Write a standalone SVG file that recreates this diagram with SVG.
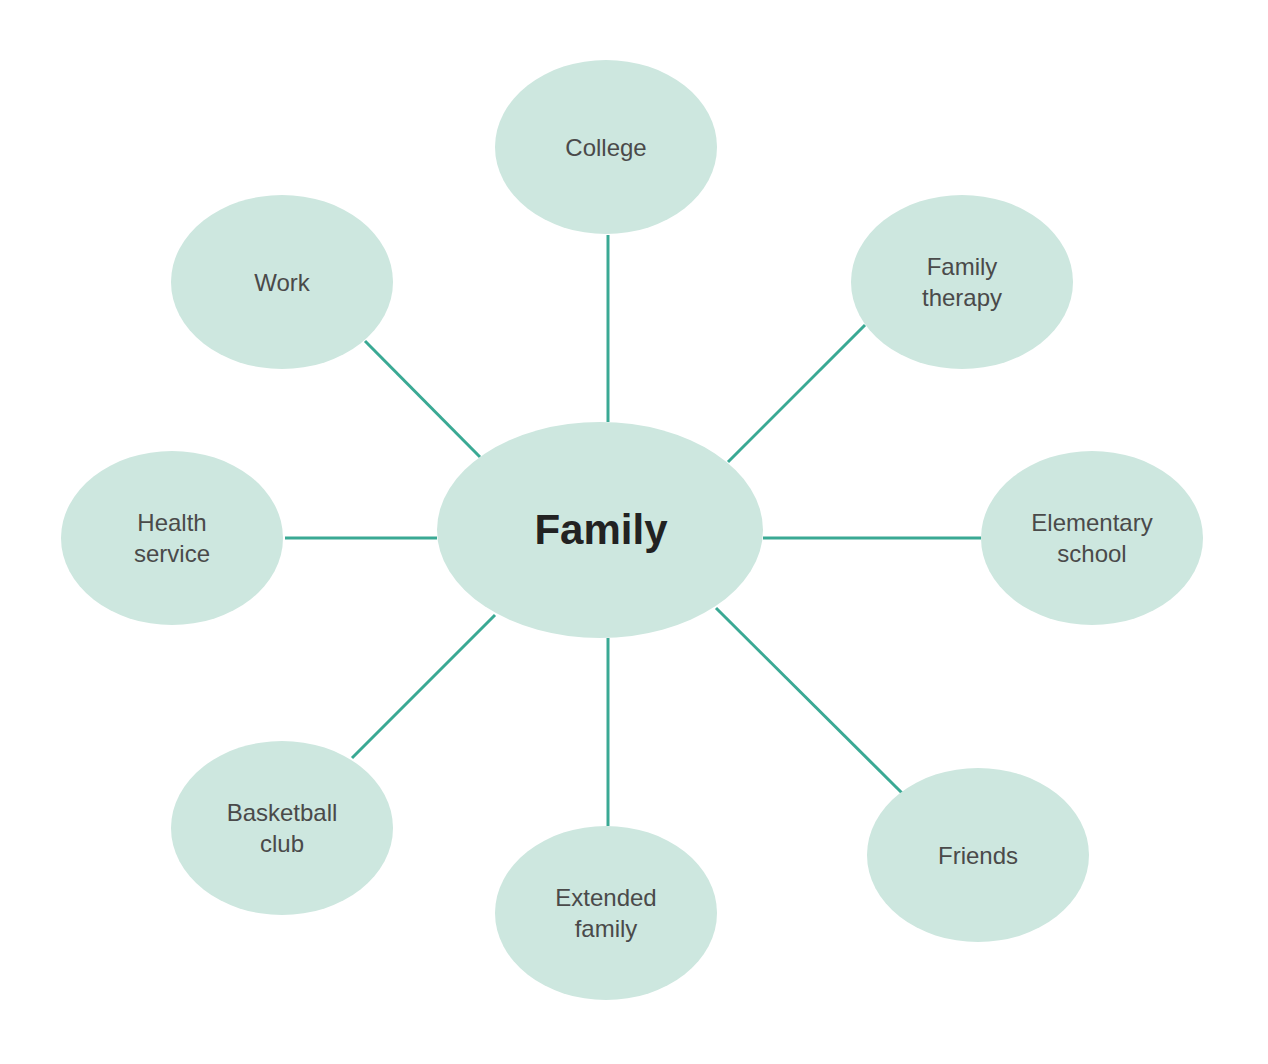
<svg xmlns="http://www.w3.org/2000/svg" width="1268" height="1064" viewBox="0 0 1268 1064">
<style>
.n{fill:#cde7df;}
.t{font-family:"Liberation Sans",Arial,sans-serif;font-size:24px;fill:#4a4a4a;text-anchor:middle;}
.c{stroke:#3aa994;stroke-width:3;fill:none;}
</style>
<rect width="1268" height="1064" fill="#fff"/>
<g id="connectors">
<line class="c" x1="608" y1="235" x2="608" y2="422"/>
<line class="c" x1="365" y1="341" x2="480" y2="457"/>
<line class="c" x1="865" y1="325" x2="728" y2="462"/>
<line class="c" x1="285" y1="538" x2="437" y2="538"/>
<line class="c" x1="763" y1="538" x2="981" y2="538"/>
<line class="c" x1="352" y1="758" x2="495" y2="615"/>
<line class="c" x1="608" y1="638" x2="608" y2="826"/>
<line class="c" x1="716" y1="608" x2="902" y2="793"/>
</g>
<g id="family"><ellipse class="n" cx="600" cy="530" rx="163" ry="108"/><text x="601" y="544" font-family="Liberation Sans,Arial,sans-serif" font-size="42" font-weight="bold" fill="#222" text-anchor="middle">Family</text></g>
<g id="college"><ellipse class="n" cx="606" cy="147" rx="111" ry="87"/><text class="t" x="606" y="156">College</text></g>
<g id="work"><ellipse class="n" cx="282" cy="282" rx="111" ry="87"/><text class="t" x="282" y="291">Work</text></g>
<g id="therapy"><ellipse class="n" cx="962" cy="282" rx="111" ry="87"/><text class="t" x="962" y="275">Family</text><text class="t" x="962" y="306">therapy</text></g>
<g id="health"><ellipse class="n" cx="172" cy="538" rx="111" ry="87"/><text class="t" x="172" y="531">Health</text><text class="t" x="172" y="562">service</text></g>
<g id="elementary"><ellipse class="n" cx="1092" cy="538" rx="111" ry="87"/><text class="t" x="1092" y="531">Elementary</text><text class="t" x="1092" y="562">school</text></g>
<g id="basketball"><ellipse class="n" cx="282" cy="828" rx="111" ry="87"/><text class="t" x="282" y="821">Basketball</text><text class="t" x="282" y="852">club</text></g>
<g id="extended"><ellipse class="n" cx="606" cy="913" rx="111" ry="87"/><text class="t" x="606" y="906">Extended</text><text class="t" x="606" y="937">family</text></g>
<g id="friends"><ellipse class="n" cx="978" cy="855" rx="111" ry="87"/><text class="t" x="978" y="864">Friends</text></g>
</svg>
